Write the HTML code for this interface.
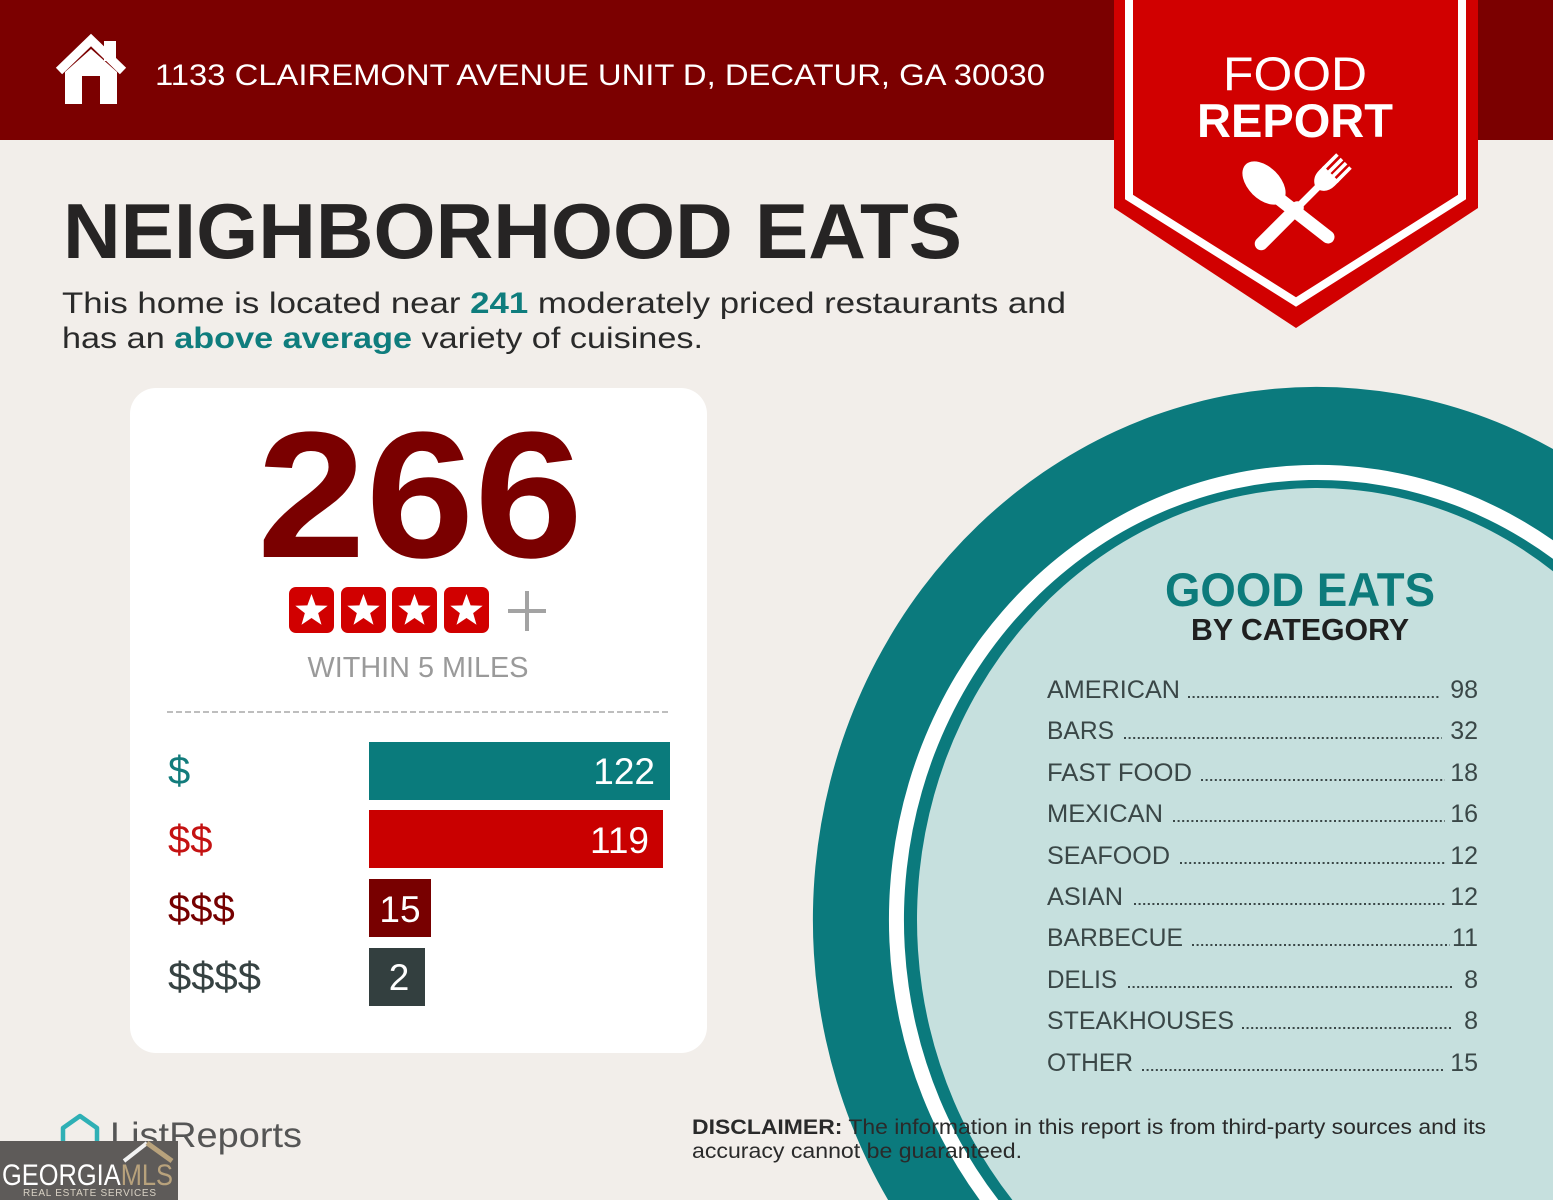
<!DOCTYPE html>
<html>
<head>
<meta charset="utf-8">
<style>
  html, body { margin:0; padding:0; background:#f2eeea; width:1553px; height:1200px; overflow:hidden; }
  svg { display:block; position:absolute; left:0; top:0; }
  text { font-family: "Liberation Sans", "DejaVu Sans", sans-serif; }
</style>
</head>
<body>
<svg width="1553" height="1200" viewBox="0 0 1553 1200" xmlns="http://www.w3.org/2000/svg">
  <defs>
    <polygon id="star" points="0,-17 4.11,-5.66 16.17,-5.25 6.66,2.16 9.99,13.75 0,7 -9.99,13.75 -6.66,2.16 -16.17,-5.25 -4.11,-5.66" fill="#ffffff"/>
  </defs>

  <!-- background -->
  <rect x="0" y="0" width="1553" height="1200" fill="#f2eeea"/>

  <!-- header -->
  <rect x="0" y="0" width="1553" height="140" fill="#7b0000"/>

  <!-- house icon -->
  <g fill="#ffffff">
    <rect x="104" y="41" width="12" height="20"/>
    <polyline points="59,71 91,40 123,71" fill="none" stroke="#ffffff" stroke-width="9" stroke-linejoin="miter"/>
    <polygon points="65,72 91,49 117,72 117,104 100,104 100,76 82,76 82,104 65,104"/>
  </g>
  <text x="155" y="85" font-size="30" fill="#ffffff" textLength="890" lengthAdjust="spacingAndGlyphs">1133 CLAIREMONT AVENUE UNIT D, DECATUR, GA 30030</text>

  <!-- food report banner -->
  <polygon points="1114,0 1478,0 1478,208 1296,328 1114,208" fill="#d10000"/>
  <polyline points="1129,0 1129,197 1296,302 1462,197 1462,0" fill="none" stroke="#ffffff" stroke-width="8" stroke-linejoin="miter"/>
  <text x="1295" y="90" font-size="47" fill="#ffffff" text-anchor="middle" textLength="144" lengthAdjust="spacingAndGlyphs">FOOD</text>
  <text x="1295" y="137" font-size="47" font-weight="bold" fill="#ffffff" text-anchor="middle" textLength="196" lengthAdjust="spacingAndGlyphs">REPORT</text>

  <!-- fork -->
  <g transform="translate(1327,178) rotate(45)" fill="#ffffff">
    <rect x="-11" y="-24" width="3.6" height="20"/>
    <rect x="-4.6" y="-24" width="3.6" height="20"/>
    <rect x="1.2" y="-24" width="3.6" height="20"/>
    <rect x="7.4" y="-24" width="3.6" height="20"/>
    <path d="M-11,-6 L11,-6 L11,0 Q11,10 3,14 L-3,14 Q-11,10 -11,0 Z"/>
    <rect x="-3.5" y="10" width="7" height="34"/>
    <line x1="0" y1="42" x2="0" y2="93" stroke="#ffffff" stroke-width="13" stroke-linecap="round"/>
  </g>
  <!-- spoon -->
  <g fill="#ffffff">
    <ellipse cx="1264" cy="183" rx="16" ry="26" transform="rotate(-45 1264 183)"/>
    <line x1="1278" y1="198" x2="1328" y2="237" stroke="#ffffff" stroke-width="13" stroke-linecap="round"/>
  </g>

  <!-- title -->
  <text x="63" y="258" font-size="78" font-weight="bold" fill="#262424" textLength="899" lengthAdjust="spacingAndGlyphs">NEIGHBORHOOD EATS</text>
  <text x="62" y="313" font-size="30" fill="#2a2a2a" textLength="1004" lengthAdjust="spacingAndGlyphs">This home is located near <tspan font-weight="bold" fill="#0f7d7d">241</tspan> moderately priced restaurants and</text>
  <text x="62" y="348" font-size="30" fill="#2a2a2a" textLength="641" lengthAdjust="spacingAndGlyphs">has an <tspan font-weight="bold" fill="#0f7d7d">above average</tspan> variety of cuisines.</text>

  <!-- white card -->
  <rect x="130" y="388" width="577" height="665" rx="26" ry="26" fill="#ffffff"/>

  <text x="420" y="557" font-size="180" font-weight="bold" fill="#7a0000" text-anchor="middle" textLength="326" lengthAdjust="spacingAndGlyphs">266</text>

  <!-- stars -->
  <g fill="#d10000">
    <rect x="289" y="587" width="45" height="46" rx="7"/>
    <rect x="341" y="587" width="45" height="46" rx="7"/>
    <rect x="392" y="587" width="45" height="46" rx="7"/>
    <rect x="444" y="587" width="45" height="46" rx="7"/>
  </g>
  <use href="#star" x="311.5" y="611"/>
  <use href="#star" x="363.5" y="611"/>
  <use href="#star" x="414.5" y="611"/>
  <use href="#star" x="466.5" y="611"/>
  <rect x="508" y="609" width="38" height="4" fill="#a3a3a3"/>
  <rect x="525" y="591" width="4" height="40" fill="#a3a3a3"/>

  <text x="418" y="677" font-size="29" fill="#9a9a9a" text-anchor="middle" textLength="221" lengthAdjust="spacingAndGlyphs">WITHIN 5 MILES</text>

  <line x1="167" y1="712" x2="670" y2="712" stroke="#a9a9a9" stroke-width="1.6" stroke-dasharray="6 3"/>

  <!-- price bars -->
  <text x="168" y="784" font-size="40" fill="#127c7c">$</text>
  <text x="168" y="853" font-size="40" fill="#c41212">$$</text>
  <text x="168" y="922" font-size="40" fill="#760000">$$$</text>
  <text x="168" y="990" font-size="40" fill="#364242" textLength="93" lengthAdjust="spacingAndGlyphs">$$$$</text>

  <rect x="369" y="742" width="301" height="58" fill="#0a7b7c"/>
  <rect x="369" y="810" width="294" height="58" fill="#c90000"/>
  <rect x="369" y="879" width="62" height="58" fill="#780000"/>
  <rect x="369" y="948" width="56" height="58" fill="#333f3f"/>

  <text x="655" y="784" font-size="37" fill="#ffffff" text-anchor="end">122</text>
  <text x="649" y="853" font-size="37" fill="#ffffff" text-anchor="end">119</text>
  <text x="400" y="922" font-size="37" fill="#ffffff" text-anchor="middle">15</text>
  <text x="399" y="990" font-size="37" fill="#ffffff" text-anchor="middle">2</text>

  <!-- circle (clipped to frame) -->
  <path d="M888.1,1200 A504,533 0 0 1 1553,449 L1553,1200 Z" fill="#0b7a7d"/>
  <path d="M979.7,1200 A428,455 0 0 1 1553,540.3 L1553,1200 Z" fill="#ffffff"/>
  <path d="M998.4,1200 A413,440 0 0 1 1553,558.9 L1553,1200 Z" fill="#0b7a7d"/>
  <path d="M1012.4,1200 A400,432 0 0 1 1553,571.2 L1553,1200 Z" fill="#c6e0de"/>

  <text x="1300" y="606" font-size="47" font-weight="bold" fill="#0d7b7b" text-anchor="middle" textLength="270" lengthAdjust="spacingAndGlyphs">GOOD EATS</text>
  <text x="1300" y="640" font-size="31" font-weight="bold" fill="#1f1f1f" text-anchor="middle" textLength="218" lengthAdjust="spacingAndGlyphs">BY CATEGORY</text>

  <g font-size="25" fill="#3a4747">
    <text x="1047" y="698" textLength="133" lengthAdjust="spacingAndGlyphs">AMERICAN</text>
    <text x="1478" y="698" text-anchor="end">98</text>
    <text x="1047" y="739" textLength="67" lengthAdjust="spacingAndGlyphs">BARS</text>
    <text x="1478" y="739" text-anchor="end">32</text>
    <text x="1047" y="781" textLength="145" lengthAdjust="spacingAndGlyphs">FAST FOOD</text>
    <text x="1478" y="781" text-anchor="end">18</text>
    <text x="1047" y="822" textLength="116" lengthAdjust="spacingAndGlyphs">MEXICAN</text>
    <text x="1478" y="822" text-anchor="end">16</text>
    <text x="1047" y="864" textLength="123" lengthAdjust="spacingAndGlyphs">SEAFOOD</text>
    <text x="1478" y="864" text-anchor="end">12</text>
    <text x="1047" y="905" textLength="76" lengthAdjust="spacingAndGlyphs">ASIAN</text>
    <text x="1478" y="905" text-anchor="end">12</text>
    <text x="1047" y="946" textLength="136" lengthAdjust="spacingAndGlyphs">BARBECUE</text>
    <text x="1478" y="946" text-anchor="end">11</text>
    <text x="1047" y="988" textLength="70" lengthAdjust="spacingAndGlyphs">DELIS</text>
    <text x="1478" y="988" text-anchor="end">8</text>
    <text x="1047" y="1029" textLength="187" lengthAdjust="spacingAndGlyphs">STEAKHOUSES</text>
    <text x="1478" y="1029" text-anchor="end">8</text>
    <text x="1047" y="1071" textLength="86" lengthAdjust="spacingAndGlyphs">OTHER</text>
    <text x="1478" y="1071" text-anchor="end">15</text>
  </g>
  <g stroke="#3a4747" stroke-width="2" stroke-dasharray="2 2.6">
    <line x1="1188" y1="697" x2="1440" y2="697"/>
    <line x1="1124" y1="738" x2="1442" y2="738"/>
    <line x1="1201" y1="780" x2="1445" y2="780"/>
    <line x1="1173" y1="821" x2="1445" y2="821"/>
    <line x1="1180" y1="863" x2="1445" y2="863"/>
    <line x1="1134" y1="904" x2="1445" y2="904"/>
    <line x1="1192" y1="945" x2="1450" y2="945"/>
    <line x1="1128" y1="987" x2="1453" y2="987"/>
    <line x1="1242" y1="1028" x2="1453" y2="1028"/>
    <line x1="1142" y1="1070" x2="1445" y2="1070"/>
  </g>

  <!-- disclaimer -->
  <text x="692" y="1134" font-size="21" fill="#2a2a2a" textLength="794" lengthAdjust="spacingAndGlyphs"><tspan font-weight="bold">DISCLAIMER:</tspan> The information in this report is from third-party sources and its</text>
  <text x="692" y="1158" font-size="21" fill="#2a2a2a" textLength="330" lengthAdjust="spacingAndGlyphs">accuracy cannot be guaranteed.</text>

  <!-- ListReports logo -->
  <polygon points="63,1145 63,1128 80,1116 97,1128 97,1145" fill="none" stroke="#2fb0b5" stroke-width="4.5" stroke-linejoin="round"/>
  <text x="110" y="1147" font-size="35" fill="#555555" textLength="192" lengthAdjust="spacingAndGlyphs">ListReports</text>

  <!-- Georgia MLS -->
  <rect x="0" y="1141" width="178" height="59" fill="#5e5b59"/>
  <line x1="124" y1="1161" x2="147" y2="1143" stroke="#f2f2f2" stroke-width="4"/>
  <line x1="147" y1="1143" x2="172" y2="1161" stroke="#b8a27c" stroke-width="5"/>
  <text x="2" y="1185" font-size="30" fill="#ffffff" textLength="171" lengthAdjust="spacingAndGlyphs">GEORGIA<tspan fill="#b8a27c">MLS</tspan></text>
  <text x="23" y="1196" font-size="10" fill="#d9d2c4" textLength="133" lengthAdjust="spacing">REAL ESTATE SERVICES</text>
</svg>
</body>
</html>
